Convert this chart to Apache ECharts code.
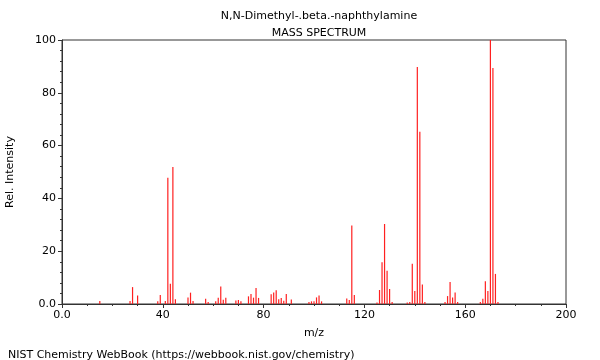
<!DOCTYPE html>
<html><head><meta charset="utf-8">
<script src="https://cdn.jsdelivr.net/npm/echarts@6/dist/echarts.min.js"></script>
<style>html,body{margin:0;padding:0;background:#fff}#c{width:600px;height:360px}</style>
</head><body><div id="c"></div>
<script>
const titleText = "N,N-Dimethyl-.beta.-naphthylamine";
const subtitleText = "MASS SPECTRUM";
const footerText = "NIST Chemistry WebBook (https://webbook.nist.gov/chemistry)";
const mz = [15,27,28,30,38,39,41,42,43,44,45,50,51,52,57,58,61,62,63,64,65,69,70,71,74,75,76,77,78,83,84,85,86,87,88,89,91,98,99,100,101,102,103,113,114,115,116,125,126,127,128,129,130,131,137,138,139,140,141,142,143,144,152,153,154,155,156,157,166,167,168,169,170,171,172,173];
const intensity = [1.1,1.1,6.4,3.2,1.0,3.4,1.1,47.8,7.7,51.9,1.8,2.5,4.3,1.1,2.0,0.8,1.0,2.4,6.6,1.6,2.4,1.3,1.5,1.0,2.9,3.8,2.4,6.1,2.3,3.7,4.4,5.2,1.8,2.3,1.2,3.8,1.7,0.8,1.0,1.0,2.5,3.2,1.0,2.1,1.5,29.7,3.4,0.6,5.3,15.8,30.3,12.6,5.7,0.8,0.6,0.8,15.2,4.9,89.8,65.2,7.4,0.8,0.8,3.0,8.3,2.5,4.4,0.8,0.8,2.0,8.6,4.9,100,89.4,11.4,0.8];
const xTicks = [0,40,80,120,160,200];
const yTicks = [0,20,40,60,80,100];

const font = "DejaVu Sans";
const chart = echarts.init(document.getElementById('c'), null, {renderer:'canvas'});
chart.setOption({
  animation:false,
  backgroundColor:'#fff',
  title:[
    {text:titleText, left:314, top:6, textAlign:'center', textStyle:{fontFamily:font,fontSize:11,fontWeight:'normal',color:'#000'}},
    {text:subtitleText, left:314, top:23, textAlign:'center', textStyle:{fontFamily:font,fontSize:11,fontWeight:'normal',color:'#000'}},
    {text:footerText, left:3, top:345, textStyle:{fontFamily:font,fontSize:11,fontWeight:'normal',color:'#000'}}
  ],
  grid:{left:62,right:34,top:40,bottom:56,show:true,borderColor:'#333',borderWidth:1,backgroundColor:'transparent',outerBoundsMode:'none',containLabel:false},
  xAxis:{type:'value',min:xTicks[0],max:xTicks[xTicks.length-1],interval:40,
    name:'m/z',nameLocation:'middle',nameGap:24,nameTextStyle:{fontFamily:font,fontSize:11,color:'#000'},
    axisLine:{show:true,onZero:false,lineStyle:{color:'#333'}},
    axisTick:{show:true,length:4,lineStyle:{color:'#333'}},
    minorTick:{show:true,splitNumber:4,length:2,lineStyle:{color:'#333'}},
    splitLine:{show:false},
    axisLabel:{fontFamily:font,fontSize:11,color:'#000',margin:6,formatter:v=>v===0?'0.0':String(v)}},
  yAxis:{type:'value',min:yTicks[0],max:yTicks[yTicks.length-1],interval:20,
    name:'Rel. Intensity',nameLocation:'middle',nameGap:46,nameTextStyle:{fontFamily:font,fontSize:11,color:'#000'},
    axisLine:{show:true,lineStyle:{color:'#333'}},
    axisTick:{show:true,length:4,lineStyle:{color:'#333'}},
    minorTick:{show:true,splitNumber:5,length:2,lineStyle:{color:'#333'}},
    splitLine:{show:false},
    axisLabel:{fontFamily:font,fontSize:11,color:'#000',margin:6,formatter:v=>v===0?'0.0':String(v)}},
  series:[{type:'bar',barWidth:1.2,silent:true,
    itemStyle:{color:'#ff2020'},
    data:mz.map((m,i)=>[m,intensity[i]])}]
});
</script></body></html>
